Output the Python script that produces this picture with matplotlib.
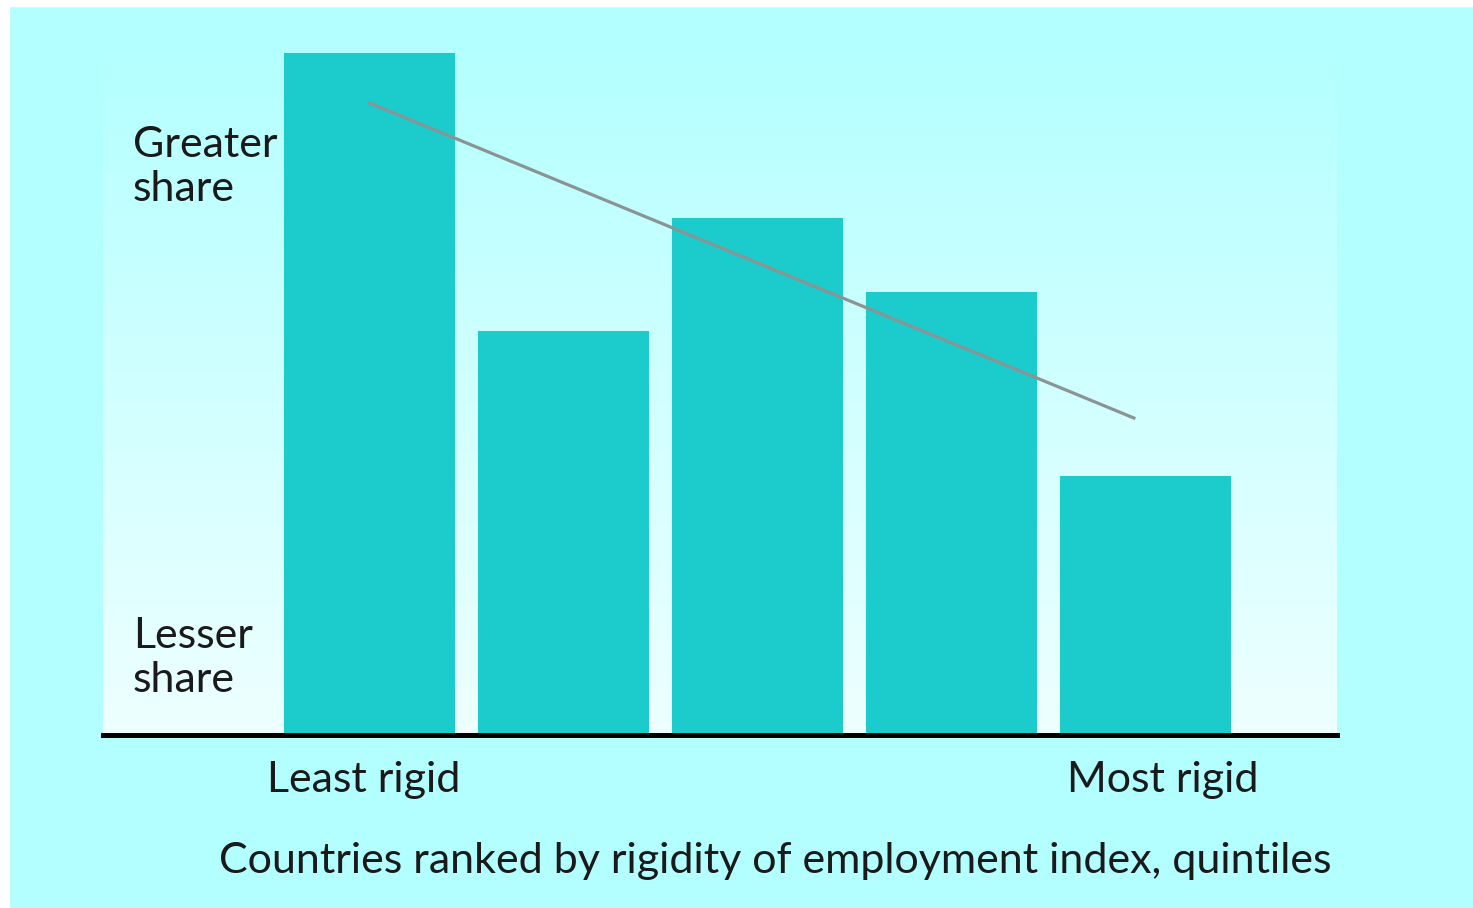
import numpy as np
import matplotlib
matplotlib.use("Agg")
import matplotlib.pyplot as plt
from matplotlib.colors import LinearSegmentedColormap

# quintiles, least rigid -> most rigid (relative share, arbitrary units)
quintiles = [1, 2, 3, 4, 5]
share = [682, 404, 517, 443, 259]
trend_x = [1, 4.94]
trend_y = [632, 317]

plt.rcParams['font.family'] = ['Lato', 'DejaVu Sans']

fig = plt.figure(figsize=(14.73, 9.08), dpi=100)
fig.patch.set_facecolor('#b3ffff')
W, H = 1473, 908

# white strip on the top and left edges
fig.add_artist(plt.Rectangle((0, 0), 9 / W, 1, color='white', transform=fig.transFigure))
fig.add_artist(plt.Rectangle((0, 1 - 6 / H), 1, 6 / H, color='white', transform=fig.transFigure))

ax = fig.add_axes([103 / W, 173 / H, 1234 / W, 695 / H])
ax.set_facecolor('none')

# vertical gradient background
cmap = LinearSegmentedColormap.from_list('bg', ['#eeffff', '#b3ffff'])
grad = np.linspace(0, 1, 256).reshape(-1, 1)
ax.imshow(grad, aspect='auto', cmap=cmap, origin='lower',
          extent=[0, 1, 0, 1], transform=ax.transAxes, zorder=0)

ax.bar(quintiles, share, width=0.88, color='#1ccccc', zorder=2)
ax.plot(trend_x, trend_y, color='#8a9494', lw=2.3, zorder=3)

ax.set_xlim(1 - 1.374, 1 + 4.987)
ax.set_ylim(0, 695)
for s in ['top', 'left', 'right']:
    ax.spines[s].set_visible(False)
ax.spines['bottom'].set_linewidth(3.6)
ax.spines['bottom'].set_color('black')
ax.spines['bottom'].set_zorder(4)
ax.set_xticks([])
ax.set_yticks([])

fs = 31
tc = '#1a1a1a'
def ftext(x, y, s, **kw):
    fig.text(x / W, 1 - y / H, s, fontsize=fs, color=tc, va='baseline', **kw)

ftext(133, 157, 'Greater')
ftext(133, 201, 'share')
ftext(133, 648, 'Lesser')
ftext(133, 692, 'share')
ftext(267, 792, 'Least rigid')
ftext(1067, 792, 'Most rigid')
ftext(219, 873, 'Countries ranked by rigidity of employment index, quintiles')

fig.savefig('out.png', dpi=100, facecolor=fig.get_facecolor())
